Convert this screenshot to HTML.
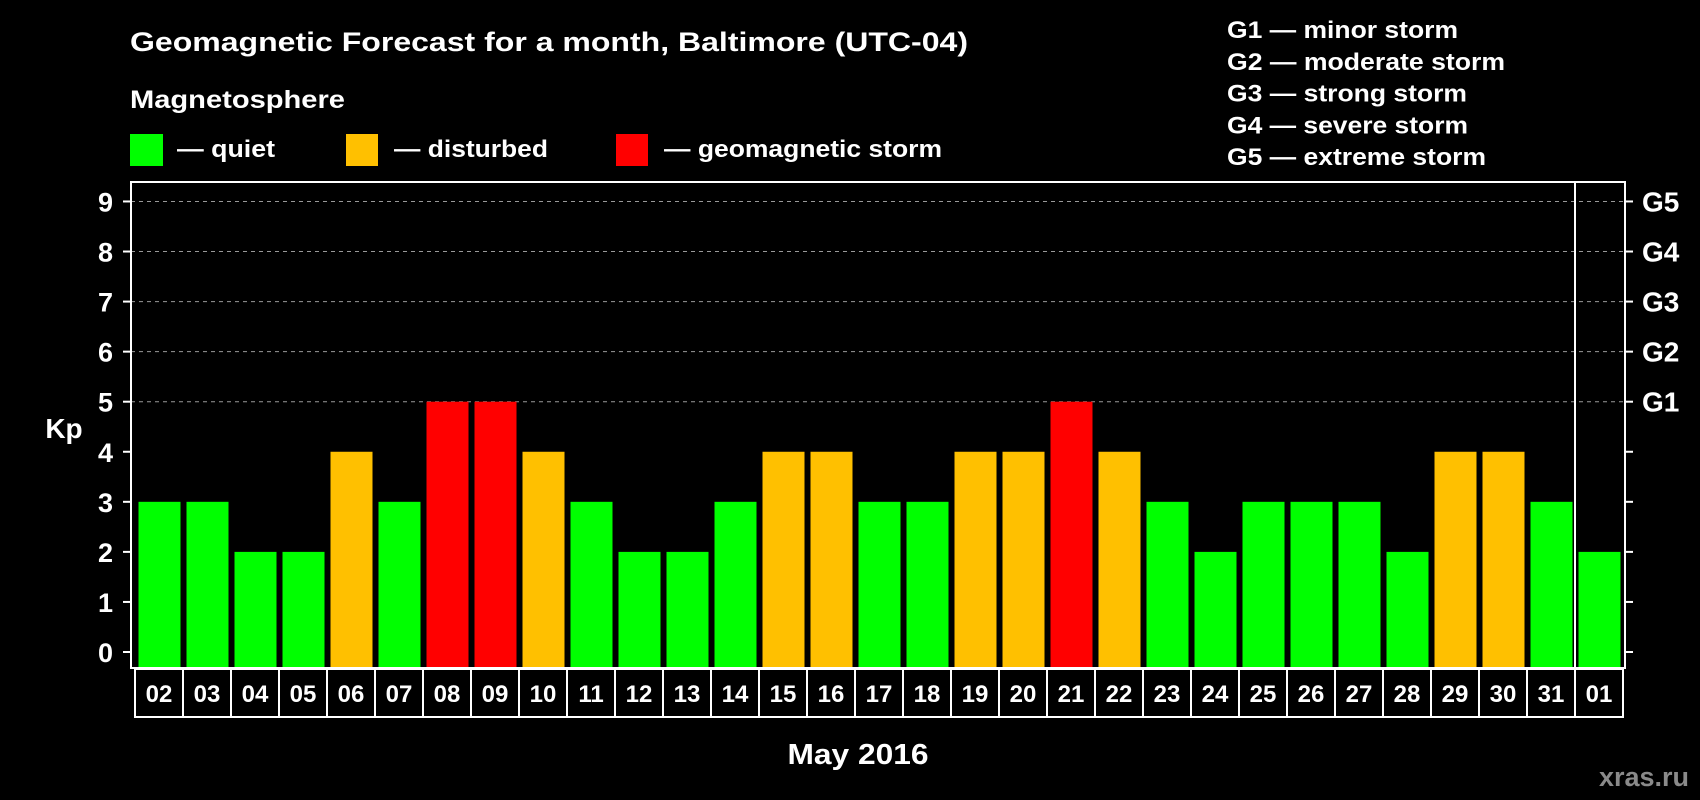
<!DOCTYPE html>
<html><head><meta charset="utf-8"><style>
html,body{margin:0;padding:0;background:#000;}
svg{display:block;font-family:"Liberation Sans",Arial,sans-serif;font-weight:bold;}
</style></head><body>
<svg id="chart" width="1700" height="800" viewBox="0 0 1700 800" xmlns="http://www.w3.org/2000/svg">
<rect width="1700" height="800" fill="#000"/>
<text x="130" y="51" fill="#fff" font-size="27" textLength="838" lengthAdjust="spacingAndGlyphs">Geomagnetic Forecast for a month, Baltimore (UTC-04)</text>
<text x="130" y="108" fill="#fff" font-size="25" textLength="215" lengthAdjust="spacingAndGlyphs">Magnetosphere</text>
<g>
<rect x="130" y="134" width="33" height="32" fill="#00ff00"/>
<text x="177" y="157" fill="#fff" font-size="24" textLength="98" lengthAdjust="spacingAndGlyphs">— quiet</text></g>
<g>
<rect x="346" y="134" width="32" height="32" fill="#ffc000"/>
<text x="394" y="157" fill="#fff" font-size="24" textLength="154" lengthAdjust="spacingAndGlyphs">— disturbed</text></g>
<g>
<rect x="616" y="134" width="32" height="32" fill="#ff0000"/>
<text x="664" y="157" fill="#fff" font-size="24" textLength="278" lengthAdjust="spacingAndGlyphs">— geomagnetic storm</text></g>
<g id="glegend"></g>
<g id="grid"></g>
<g id="bars"></g>
<g id="axes"></g>
<text x="64" y="438" fill="#fff" font-size="28" text-anchor="middle">Kp</text>
<text x="858" y="764" fill="#fff" font-size="29" text-anchor="middle" textLength="141" lengthAdjust="spacingAndGlyphs">May 2016</text>
<text x="1689" y="786" fill="#8a8a8a" font-size="27" text-anchor="end">xras.ru</text>
</svg>
<script>
const days = ["02","03","04","05","06","07","08","09","10","11","12","13","14","15","16","17","18","19","20","21","22","23","24","25","26","27","28","29","30","31","01"];
const kpValues = [3,3,2,2,4,3,5,5,4,3,2,2,3,4,4,3,3,4,4,5,4,3,2,3,3,3,2,4,4,3,2];
const yTicks = [0,1,2,3,4,5,6,7,8,9];
const gLabels = ["G1","G2","G3","G4","G5"];
const gLevels = [5,6,7,8,9];
const gDescriptions = ["G1 — minor storm","G2 — moderate storm","G3 — strong storm","G4 — severe storm","G5 — extreme storm"];
const gDescWidths = [231,278,240,241,259];

const NS="http://www.w3.org/2000/svg";
const frameL=131, frameR=1625, frameT=182, frameB=668;
const y0=652, yUnit=50.06;
const slot0=135, slotW=48, barPad=3.5, barW=42;
function yScale(v){return y0 - v*yUnit;}
function xSlot(i){return slot0 + i*slotW;}
function mk(tag, attrs, parent){const e=document.createElementNS(NS,tag);for(const k in attrs)e.setAttribute(k,attrs[k]);parent.appendChild(e);return e;}
function color(v){return v>=5?"#ff0000":(v>=4?"#ffc000":"#00ff00");}

const grid=document.getElementById("grid");
gLevels.forEach((lv)=>{
  const l=mk("line",{x1:frameL,x2:frameR,y1:yScale(lv),y2:yScale(lv),stroke:"#999","stroke-width":1,"stroke-dasharray":"4,4"},grid);
  
  
});

const bars=document.getElementById("bars");
kpValues.forEach((v,i)=>{
  const r=mk("rect",{x:xSlot(i)+barPad,y:yScale(v),width:barW,height:frameB-yScale(v),fill:color(v)},bars);
  
  
});

const axes=document.getElementById("axes");
const frame=mk("rect",{x:frameL,y:frameT,width:frameR-frameL,height:frameB-frameT,fill:"none",stroke:"#fff","stroke-width":2},axes);


const divX=xSlot(days.length-1);
const dv=mk("line",{x1:divX,x2:divX,y1:frameT,y2:frameB,stroke:"#fff","stroke-width":2},axes);


yTicks.forEach((t)=>{
  const y=yScale(t);
  const tl=mk("line",{x1:frameL-8,x2:frameL,y1:y,y2:y,stroke:"#fff","stroke-width":2},axes);
  
  
  const tr=mk("line",{x1:frameR,x2:frameR+8,y1:y,y2:y,stroke:"#fff","stroke-width":2},axes);
  
  
  const tx=mk("text",{x:113,y:y+10,fill:"#fff","font-size":27,"text-anchor":"end"},axes);
  tx.textContent=t;
  
  
});
gLabels.forEach((g,i)=>{
  const tx=mk("text",{x:1642,y:yScale(gLevels[i])+10,fill:"#fff","font-size":28},axes);
  tx.textContent=g;
  
  
});
days.forEach((d,i)=>{
  const bx=mk("rect",{x:xSlot(i),y:669,width:slotW,height:48,fill:"#000",stroke:"#fff","stroke-width":2},axes);
  
  
  const tx=mk("text",{x:xSlot(i)+slotW/2,y:702,fill:"#fff","font-size":24,"text-anchor":"middle"},axes);
  tx.textContent=d;
  
  
});

const gl=document.getElementById("glegend");
gDescriptions.forEach((s,i)=>{
  const tx=mk("text",{x:1227,y:38+i*31.75,fill:"#fff","font-size":24,textLength:gDescWidths[i],lengthAdjust:"spacingAndGlyphs"},gl);
  tx.textContent=s;
  
  
});
</script>
</body></html>
